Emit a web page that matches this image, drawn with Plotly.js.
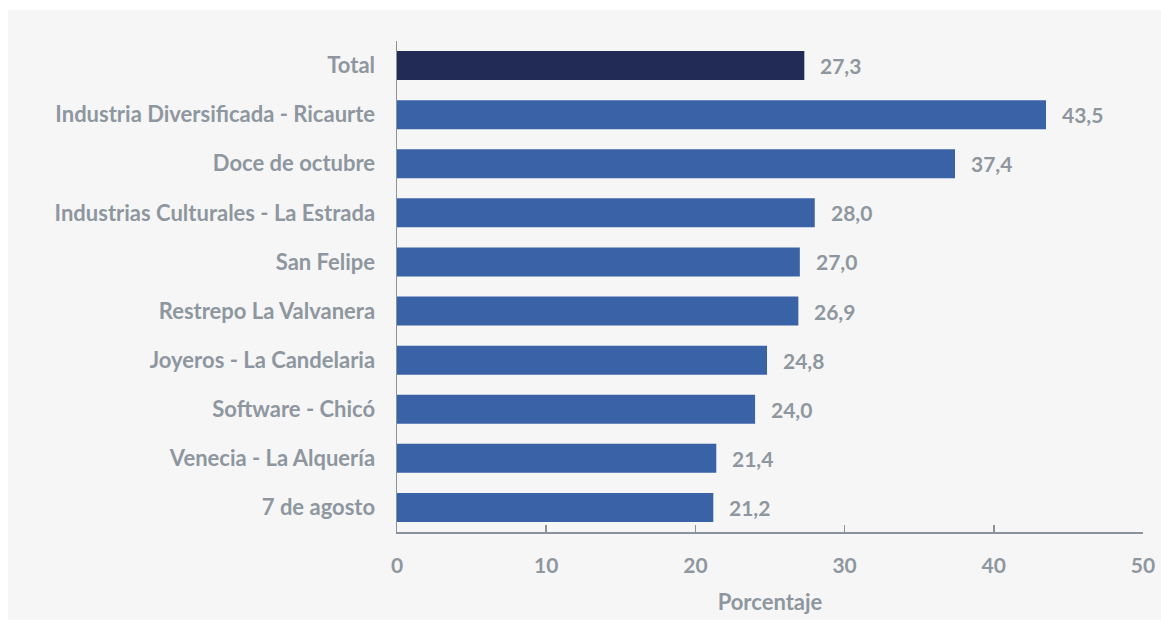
<!DOCTYPE html>
<html>
<head>
<meta charset="utf-8">
<script src="https://cdn.plot.ly/plotly-3.0.1.min.js"></script>
<style>
  html, body { margin: 0; padding: 0; background: #ffffff; width: 1161px; height: 623px; overflow: hidden; }
  #chart { position: absolute; left: 8px; top: 10px; width: 1153px; height: 610px; }
</style>
</head>
<body>
<div id="chart"></div>
<script>
const categories = [
  "Total",
  "Industria Diversificada - Ricaurte",
  "Doce de octubre",
  "Industrias Culturales - La Estrada",
  "San Felipe",
  "Restrepo La Valvanera",
  "Joyeros - La Candelaria",
  "Software - Chicó",
  "Venecia - La Alquería",
  "7 de agosto"
];
const values = [27.3, 43.5, 37.4, 28.0, 27.0, 26.9, 24.8, 24.0, 21.4, 21.2];
const barColors = ["#212b55", "#3a62a7", "#3a62a7", "#3a62a7", "#3a62a7", "#3a62a7", "#3a62a7", "#3a62a7", "#3a62a7", "#3a62a7"];
const xTicks = [0, 10, 20, 30, 40, 50];
const xTitle = "Porcentaje";

const textColor = "#8e979f";
const fontFamily = "Lato, 'Open Sans', sans-serif";

const fmt = v => v.toFixed(1).replace(".", ",");

const trace = {
  type: "bar",
  orientation: "h",
  x: values,
  y: categories,
  marker: { color: barColors, line: { width: 0 } },
  hoverinfo: "skip"
};

const annotations = values.map((v, i) => ({
  x: v,
  y: categories[i],
  xref: "x",
  yref: "y",
  text: fmt(v),
  showarrow: false,
  xanchor: "left",
  yanchor: "middle",
  xshift: 14,
  yshift: 0,
  font: { family: fontFamily, size: 21, color: textColor, weight: 700 }
}));

const layout = {
  width: 1153,
  height: 610,
  paper_bgcolor: "#f6f6f6",
  plot_bgcolor: "#f6f6f6",
  margin: { l: 389, r: 18, t: 31, b: 88 },
  showlegend: false,
  bargap: 0.41,
  font: { family: fontFamily, color: textColor, size: 21, weight: 700 },
  xaxis: {
    range: [0, 50],
    tickvals: xTicks,
    ticktext: xTicks.map(String),
    ticks: "inside",
    ticklen: 7,
    tickwidth: 1.5,
    tickcolor: "#8a939c",
    showline: true,
    linecolor: "#8a939c",
    linewidth: 1.5,
    showgrid: false,
    zeroline: false,
    ticklabelstandoff: 14,
    tickfont: { family: fontFamily, size: 21, color: textColor, weight: 700 },
    title: { text: xTitle, standoff: 19, font: { family: fontFamily, size: 22, color: textColor, weight: 700 } },
    fixedrange: true
  },
  yaxis: {
    autorange: "reversed",
    showline: true,
    linecolor: "#8a939c",
    linewidth: 1.5,
    ticks: "",
    showgrid: false,
    zeroline: false,
    ticklabelstandoff: 16,
    tickfont: { family: fontFamily, size: 22, color: textColor, weight: 700 },
    fixedrange: true
  },
  annotations: annotations
};

Plotly.newPlot("chart", [trace], layout, { displayModeBar: false, staticPlot: true });
</script>
</body>
</html>
